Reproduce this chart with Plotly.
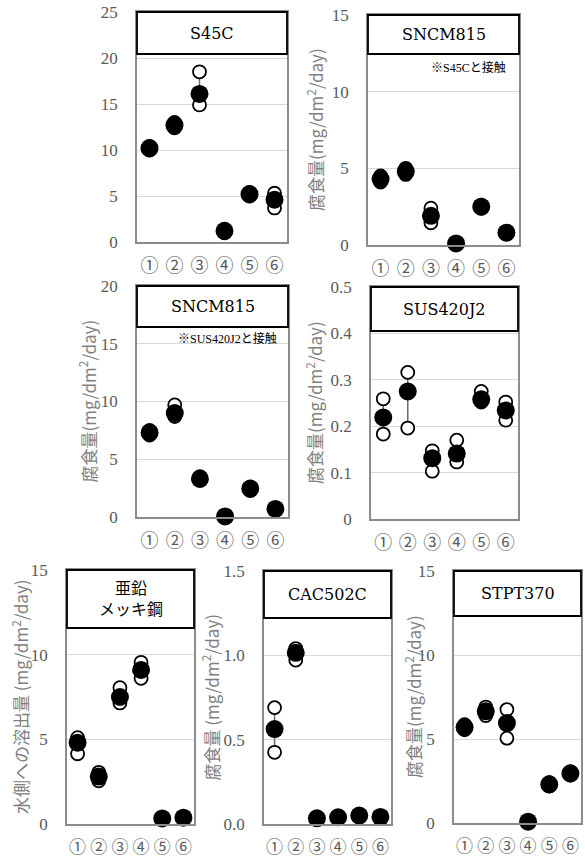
import plotly.graph_objects as go

W, H = 585, 859

cats = ["①", "②", "③", "④", "⑤", "⑥"]

# S45C
s45c_mean = [10.2, 12.7, 16.1, 1.2, 5.2, 4.6]
s45c_lo = [10.0, 12.4, 14.9, 1.0, 5.0, 3.7]
s45c_hi = [10.4, 13.0, 18.5, 1.4, 5.4, 5.3]
# SNCM815 (S45C contact)
sncm_a_mean = [4.3, 4.8, 1.9, 0.1, 2.5, 0.8]
sncm_a_lo = [4.1, 4.6, 1.45, 0.05, 2.4, 0.75]
sncm_a_hi = [4.5, 5.0, 2.4, 0.15, 2.6, 0.85]
# SNCM815 (SUS420J2 contact)
sncm_b_mean = [7.3, 9.0, 3.3, 0.05, 2.45, 0.7]
sncm_b_lo = [7.1, 8.7, 3.2, 0.0, 2.3, 0.65]
sncm_b_hi = [7.5, 9.7, 3.5, 0.1, 2.6, 0.75]
# SUS420J2
sus_mean = [0.219, 0.275, 0.131, 0.141, 0.258, 0.234]
sus_lo = [0.183, 0.196, 0.103, 0.123, 0.252, 0.213]
sus_hi = [0.259, 0.316, 0.147, 0.170, 0.275, 0.252]
# 亜鉛メッキ鋼
zinc_mean = [4.8, 2.8, 7.5, 9.1, 0.33, 0.37]
zinc_lo = [4.15, 2.55, 7.15, 8.6, 0.3, 0.35]
zinc_hi = [5.1, 3.05, 8.05, 9.55, 0.36, 0.4]
# CAC502C
cac_mean = [0.563, 1.015, 0.034, 0.040, 0.050, 0.042]
cac_lo = [0.425, 0.972, 0.030, 0.036, 0.045, 0.038]
cac_hi = [0.69, 1.04, 0.038, 0.044, 0.055, 0.046]
# STPT370
stpt_mean = [5.7, 6.65, 5.95, 0.08, 2.3, 2.95]
stpt_lo = [5.55, 6.4, 5.05, 0.05, 2.2, 2.85]
stpt_hi = [5.85, 6.9, 6.75, 0.1, 2.4, 3.05]

YT = "腐食量(mg/dm<sup>2</sup>/day)"
panels = [
    dict(title="S45C", mean=s45c_mean, lo=s45c_lo, hi=s45c_hi, box=(137, 287, 12, 242),
         yr=[0, 25], dt=5, fmt="", bh=42, yt=None, ytx=None, note=None, xf=18),
    dict(title="SNCM815", mean=sncm_a_mean, lo=sncm_a_lo, hi=sncm_a_hi, box=(368, 519, 15, 245),
         yr=[0, 15], dt=5, fmt="", bh=39, yt=YT, ytx=315, note=("※S45Cと接触", 508, 67), xf=18),
    dict(title="SNCM815", mean=sncm_b_mean, lo=sncm_b_lo, hi=sncm_b_hi, box=(137, 288, 286, 517),
         yr=[0, 20], dt=5, fmt="", bh=41, yt=YT, ytx=87, note=("※SUS420J2と接触", 279, 338), xf=18),
    dict(title="SUS420J2", mean=sus_mean, lo=sus_lo, hi=sus_hi, box=(371, 518, 287, 519),
         yr=[0, 0.5], dt=0.1, fmt="", bh=44, yt=YT, ytx=314, note=None, xf=18),
    dict(title="亜鉛<br>メッキ鋼", mean=zinc_mean, lo=zinc_lo, hi=zinc_hi, box=(67, 194, 570, 824),
         yr=[0, 15], dt=5, fmt="", bh=58, yt="水側への溶出量 (mg/dm<sup>2</sup>/day)", ytx=20, note=None, xf=17),
    dict(title="CAC502C", mean=cac_mean, lo=cac_lo, hi=cac_hi, box=(264, 391, 571, 824),
         yr=[0, 1.5], dt=0.5, fmt=".1f", bh=47, yt="腐食量 (mg/dm<sup>2</sup>/day)", ytx=210, note=None, xf=17),
    dict(title="STPT370", mean=stpt_mean, lo=stpt_lo, hi=stpt_hi, box=(454, 581, 571, 823),
         yr=[0, 15], dt=5, fmt="", bh=45, yt=YT, ytx=413, note=None, xf=17),
]

F_TICK = "Liberation Serif, Noto Sans CJK JP"
F_TITLE = "DejaVu Serif, Noto Sans CJK JP"
F_CJK = "Noto Sans CJK JP"
GRAY = "#595959"

layout = dict(width=W, height=H, margin=dict(l=0, r=0, t=0, b=0, pad=0), autosize=False,
              plot_bgcolor="white", paper_bgcolor="white", showlegend=False,
              font=dict(family=F_TICK, color=GRAY))
shapes, annos = [], []

fig = go.Figure()
for i, p in enumerate(panels):
    n = i + 1
    key = "" if n == 1 else str(n)
    xa, ya = f"x{key}", f"y{key}"
    x0, x1, y0, y1 = p["box"]
    ph = y1 - y0
    err_p = [h - m for h, m in zip(p["hi"], p["mean"])]
    err_m = [m - l for m, l in zip(p["mean"], p["lo"])]
    fig.add_trace(go.Scatter(x=cats, y=p["mean"], mode="markers", xaxis=xa, yaxis=ya,
                             marker=dict(size=1, opacity=0),
                             error_y=dict(type="data", symmetric=False, array=err_p, arrayminus=err_m,
                                          width=0, thickness=1.5, color="#6b6b6b"),
                             cliponaxis=False, hoverinfo="skip"))
    fig.add_trace(go.Scatter(x=cats + cats, y=p["lo"] + p["hi"], mode="markers", xaxis=xa, yaxis=ya,
                             marker=dict(size=13, color="white", line=dict(color="black", width=1.8)),
                             cliponaxis=False))
    fig.add_trace(go.Scatter(x=cats, y=p["mean"], mode="markers", xaxis=xa, yaxis=ya,
                             marker=dict(size=18, color="black", line=dict(color="black", width=0)),
                             cliponaxis=False))
    layout[f"xaxis{key}"] = dict(domain=[x0 / W, x1 / W], anchor=ya, type="category",
                                 categoryorder="array", categoryarray=cats, range=[-0.5, 5.5],
                                 tickmode="array", tickvals=cats, ticktext=cats,
                                 showline=True, mirror=True, linecolor="#8c8c8c", linewidth=1.5,
                                 showgrid=False, zeroline=False, ticks="", automargin=False,
                                 tickfont=dict(size=p["xf"], color=GRAY, family=F_CJK),
                                 ticklabelstandoff=7)
    layout[f"yaxis{key}"] = dict(domain=[1 - y1 / H, 1 - y0 / H], anchor=xa, range=p["yr"],
                                 dtick=p["dt"], tick0=0, tickformat=p["fmt"],
                                 showline=True, mirror=True, linecolor="#8c8c8c", linewidth=1.5,
                                 showgrid=True, gridcolor="#d9d9d9", gridwidth=1.3, zeroline=False,
                                 ticks="", automargin=False,
                                 tickfont=dict(size=17, color=GRAY, family=F_TICK),
                                 ticklabelstandoff=14)
    bfrac = p["bh"] / ph
    shapes.append(dict(type="rect", xref=f"{xa} domain", yref=f"{ya} domain", x0=0, x1=1,
                       y0=1 - bfrac, y1=1, fillcolor="white", line=dict(color="black", width=1.8),
                       layer="above"))
    annos.append(dict(xref=f"{xa} domain", yref=f"{ya} domain", x=0.5, y=1 - bfrac / 2,
                      text=p["title"], showarrow=False, font=dict(size=16, color="black", family=F_TITLE),
                      xanchor="center", yanchor="middle"))
    if p["yt"]:
        annos.append(dict(xref="paper", yref="paper", x=p["ytx"] / W, y=1 - (y0 + y1) / 2 / H,
                          text=p["yt"], textangle=-90, showarrow=False,
                          font=dict(size=17, color="#7f7f7f", family=F_CJK),
                          xanchor="center", yanchor="middle"))
    if p["note"]:
        t, nx, ny = p["note"]
        annos.append(dict(xref="paper", yref="paper", x=nx / W, y=1 - ny / H, text=t,
                          showarrow=False, font=dict(size=12, color="black", family=F_TICK),
                          xanchor="right", yanchor="middle"))

layout["shapes"] = shapes
layout["annotations"] = annos
fig.update_layout(**layout)
fig.write_html("out.html", config={"displayModeBar": False},
               post_script="document.body.style.margin='0';document.body.style.padding='0';"
                           "document.documentElement.style.overflow='hidden';")
